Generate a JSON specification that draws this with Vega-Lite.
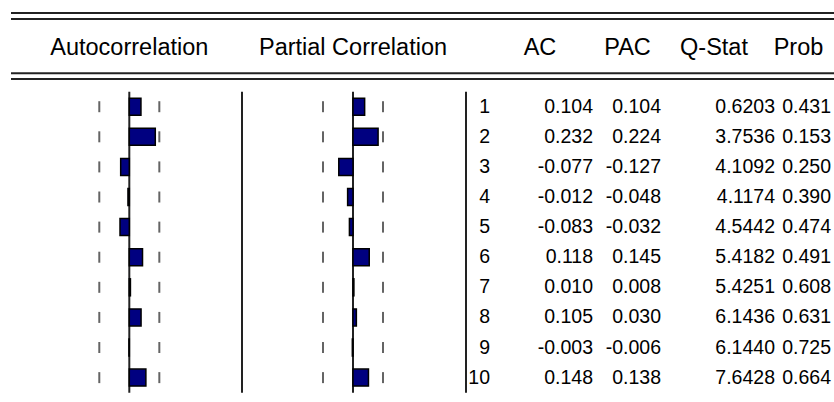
{
  "$schema": "https://vega.github.io/schema/vega-lite/v6.json",
  "padding": {"left": 10, "top": 0, "right": 0, "bottom": 0},
  "bounds": "flush",
  "config": {
    "view": {"stroke": null},
    "concat": {"spacing": 0},
    "axis": {"disable": true},
    "locale": {"number": {"decimal": ".", "thousands": ",", "grouping": [3], "currency": ["$", ""], "minus": "-"}},
    "text": {"font": "Liberation Sans", "color": "#000"}
  },
  "data": {"values": [
    {"lag": 1, "ac": 0.104, "pac": 0.104, "q": 0.6203, "prob": 0.431},
    {"lag": 2, "ac": 0.232, "pac": 0.224, "q": 3.7536, "prob": 0.153},
    {"lag": 3, "ac": -0.077, "pac": -0.127, "q": 4.1092, "prob": 0.250},
    {"lag": 4, "ac": -0.012, "pac": -0.048, "q": 4.1174, "prob": 0.390},
    {"lag": 5, "ac": -0.083, "pac": -0.032, "q": 4.5442, "prob": 0.474},
    {"lag": 6, "ac": 0.118, "pac": 0.145, "q": 5.4182, "prob": 0.491},
    {"lag": 7, "ac": 0.010, "pac": 0.008, "q": 5.4251, "prob": 0.608},
    {"lag": 8, "ac": 0.105, "pac": 0.030, "q": 6.1436, "prob": 0.631},
    {"lag": 9, "ac": -0.003, "pac": -0.006, "q": 6.1440, "prob": 0.725},
    {"lag": 10, "ac": 0.148, "pac": 0.138, "q": 7.6428, "prob": 0.664}
  ]},
  "hconcat": [
    {
      "width": 231, "height": 402,
      "layer": [
        {"data": {"values": [{}]}, "mark": {"type": "rule", "color": "#222", "strokeWidth": 2}, "encoding": {"y": {"datum": -2.113, "type": "quantitative", "scale": {"domain": [-2.545, 10.81], "reverse": true, "nice": false, "zero": false, "padding": 0}}}},
        {"data": {"values": [{}]}, "mark": {"type": "rule", "color": "#222", "strokeWidth": 2}, "encoding": {"y": {"datum": -1.914, "type": "quantitative"}}},
        {"data": {"values": [{}]}, "mark": {"type": "rule", "color": "#222", "strokeWidth": 2}, "encoding": {"y": {"datum": -0.110, "type": "quantitative"}}},
        {"data": {"values": [{}]}, "mark": {"type": "rule", "color": "#222", "strokeWidth": 2}, "encoding": {"y": {"datum": 0.080, "type": "quantitative"}}},
        {"data": {"values": [{}]}, "mark": {"type": "text", "text": "Autocorrelation", "fontSize": 23.5, "align": "center", "baseline": "alphabetic"}, "encoding": {"x": {"datum": 0, "type": "quantitative", "scale": {"domain": [-1.0563, 1.00625], "nice": false, "zero": false, "padding": 0}}, "y": {"datum": -0.718, "type": "quantitative"}}},
        {"data": {"values": [{}]}, "mark": {"type": "rule", "color": "#222", "strokeWidth": 2}, "encoding": {"x": {"datum": 0, "type": "quantitative"}, "y": {"datum": 0.5, "type": "quantitative"}, "y2": {"datum": 10.5}}},
        {"mark": {"type": "tick", "orient": "vertical", "size": 11, "thickness": 2, "color": "#222"}, "encoding": {"x": {"datum": -0.268, "type": "quantitative"}, "y": {"field": "lag", "type": "quantitative"}}},
        {"mark": {"type": "tick", "orient": "vertical", "size": 11, "thickness": 2, "color": "#222"}, "encoding": {"x": {"datum": 0.268, "type": "quantitative"}, "y": {"field": "lag", "type": "quantitative"}}},
        {"mark": {"type": "bar", "orient": "horizontal", "size": 17, "fill": "#000080", "stroke": "#000", "strokeWidth": 1.5}, "encoding": {"x": {"field": "ac", "type": "quantitative"}, "x2": {"datum": 0}, "y": {"field": "lag", "type": "quantitative"}}}
      ]
    },
    {
      "width": 224, "height": 402,
      "layer": [
        {"data": {"values": [{}]}, "mark": {"type": "rule", "color": "#222", "strokeWidth": 2}, "encoding": {"y": {"datum": -2.113, "type": "quantitative", "scale": {"domain": [-2.545, 10.81], "reverse": true, "nice": false, "zero": false, "padding": 0}}}},
        {"data": {"values": [{}]}, "mark": {"type": "rule", "color": "#222", "strokeWidth": 2}, "encoding": {"y": {"datum": -1.914, "type": "quantitative"}}},
        {"data": {"values": [{}]}, "mark": {"type": "rule", "color": "#222", "strokeWidth": 2}, "encoding": {"y": {"datum": -0.110, "type": "quantitative"}}},
        {"data": {"values": [{}]}, "mark": {"type": "rule", "color": "#222", "strokeWidth": 2}, "encoding": {"y": {"datum": 0.080, "type": "quantitative"}}},
        {"data": {"values": [{}]}, "mark": {"type": "text", "text": "Partial Correlation", "fontSize": 23.5, "align": "center", "baseline": "alphabetic"}, "encoding": {"x": {"datum": 0, "type": "quantitative", "scale": {"domain": [-0.99107, 1.00893], "nice": false, "zero": false, "padding": 0}}, "y": {"datum": -0.718, "type": "quantitative"}}},
        {"data": {"values": [{}]}, "mark": {"type": "rule", "color": "#222", "strokeWidth": 2}, "encoding": {"x": {"datum": -0.99107, "type": "quantitative"}, "y": {"datum": 0.5, "type": "quantitative"}, "y2": {"datum": 10.5}}},
        {"data": {"values": [{}]}, "mark": {"type": "rule", "color": "#222", "strokeWidth": 2}, "encoding": {"x": {"datum": 0, "type": "quantitative"}, "y": {"datum": 0.5, "type": "quantitative"}, "y2": {"datum": 10.5}}},
        {"mark": {"type": "tick", "orient": "vertical", "size": 11, "thickness": 2, "color": "#222"}, "encoding": {"x": {"datum": -0.268, "type": "quantitative"}, "y": {"field": "lag", "type": "quantitative"}}},
        {"mark": {"type": "tick", "orient": "vertical", "size": 11, "thickness": 2, "color": "#222"}, "encoding": {"x": {"datum": 0.268, "type": "quantitative"}, "y": {"field": "lag", "type": "quantitative"}}},
        {"mark": {"type": "bar", "orient": "horizontal", "size": 17, "fill": "#000080", "stroke": "#000", "strokeWidth": 1.5}, "encoding": {"x": {"field": "pac", "type": "quantitative"}, "x2": {"datum": 0}, "y": {"field": "lag", "type": "quantitative"}}}
      ]
    },
    {
      "width": 369, "height": 402,
      "layer": [
        {"data": {"values": [{}]}, "mark": {"type": "rule", "color": "#222", "strokeWidth": 2}, "encoding": {"y": {"datum": -2.113, "type": "quantitative", "scale": {"domain": [-2.545, 10.81], "reverse": true, "nice": false, "zero": false, "padding": 0}}}},
        {"data": {"values": [{}]}, "mark": {"type": "rule", "color": "#222", "strokeWidth": 2}, "encoding": {"y": {"datum": -1.914, "type": "quantitative"}}},
        {"data": {"values": [{}]}, "mark": {"type": "rule", "color": "#222", "strokeWidth": 2}, "encoding": {"y": {"datum": -0.110, "type": "quantitative"}}},
        {"data": {"values": [{}]}, "mark": {"type": "rule", "color": "#222", "strokeWidth": 2}, "encoding": {"y": {"datum": 0.080, "type": "quantitative"}}},
        {"data": {"values": [{}]}, "mark": {"type": "text", "text": "AC", "fontSize": 23.5, "align": "center", "baseline": "alphabetic"}, "encoding": {"x": {"datum": 74, "type": "quantitative", "scale": {"domain": [0, 369], "nice": false, "zero": false, "padding": 0}}, "y": {"datum": -0.718, "type": "quantitative"}}},
        {"data": {"values": [{}]}, "mark": {"type": "text", "text": "PAC", "fontSize": 23.5, "align": "center", "baseline": "alphabetic"}, "encoding": {"x": {"datum": 161.5, "type": "quantitative"}, "y": {"datum": -0.718, "type": "quantitative"}}},
        {"data": {"values": [{}]}, "mark": {"type": "text", "text": "Q-Stat", "fontSize": 23.5, "align": "center", "baseline": "alphabetic"}, "encoding": {"x": {"datum": 248, "type": "quantitative"}, "y": {"datum": -0.718, "type": "quantitative"}}},
        {"data": {"values": [{}]}, "mark": {"type": "text", "text": "Prob", "fontSize": 23.5, "align": "center", "baseline": "alphabetic"}, "encoding": {"x": {"datum": 332.5, "type": "quantitative"}, "y": {"datum": -0.718, "type": "quantitative"}}},
        {"data": {"values": [{}]}, "mark": {"type": "rule", "color": "#222", "strokeWidth": 2}, "encoding": {"x": {"datum": 0, "type": "quantitative"}, "y": {"datum": 0.5, "type": "quantitative"}, "y2": {"datum": 10.5}}},
        {"mark": {"type": "text", "fontSize": 19.5, "align": "right", "baseline": "alphabetic", "dy": 6}, "encoding": {"x": {"datum": 24, "type": "quantitative"}, "y": {"field": "lag", "type": "quantitative"}, "text": {"field": "lag", "type": "quantitative", "format": "d"}}},
        {"mark": {"type": "text", "fontSize": 19.5, "align": "right", "baseline": "alphabetic", "dy": 6}, "encoding": {"x": {"datum": 127, "type": "quantitative"}, "y": {"field": "lag", "type": "quantitative"}, "text": {"field": "ac", "type": "quantitative", "format": ".3f"}}},
        {"mark": {"type": "text", "fontSize": 19.5, "align": "right", "baseline": "alphabetic", "dy": 6}, "encoding": {"x": {"datum": 195, "type": "quantitative"}, "y": {"field": "lag", "type": "quantitative"}, "text": {"field": "pac", "type": "quantitative", "format": ".3f"}}},
        {"mark": {"type": "text", "fontSize": 19.5, "align": "right", "baseline": "alphabetic", "dy": 6}, "encoding": {"x": {"datum": 309, "type": "quantitative"}, "y": {"field": "lag", "type": "quantitative"}, "text": {"field": "q", "type": "quantitative", "format": ".4f"}}},
        {"mark": {"type": "text", "fontSize": 19.5, "align": "right", "baseline": "alphabetic", "dy": 6}, "encoding": {"x": {"datum": 365, "type": "quantitative"}, "y": {"field": "lag", "type": "quantitative"}, "text": {"field": "prob", "type": "quantitative", "format": ".3f"}}}
      ]
    }
  ]
}
